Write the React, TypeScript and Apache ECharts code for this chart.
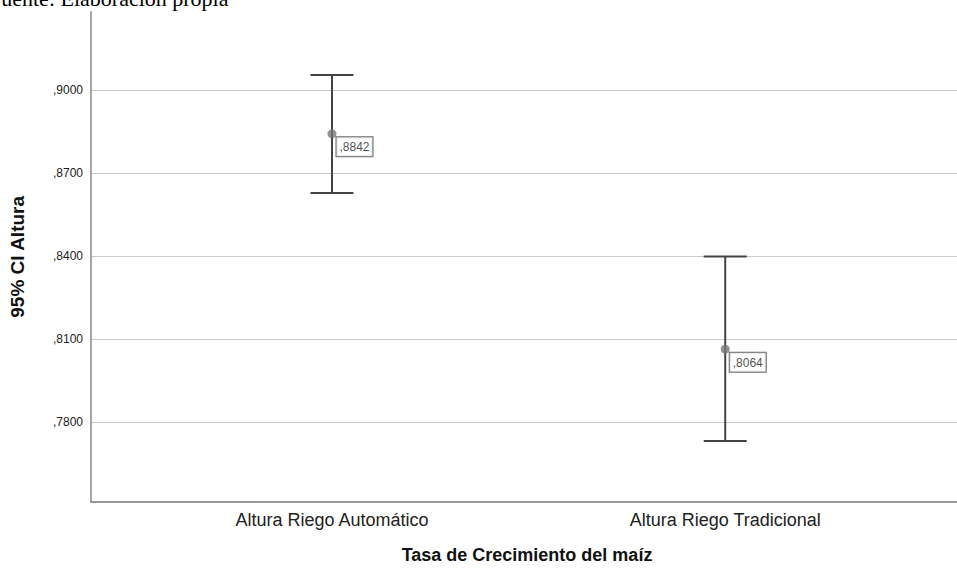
import React, { useEffect, useRef } from "react";
import * as echarts from "echarts";

const categories = ["Altura Riego Automático", "Altura Riego Tradicional"];
const means = [0.8842, 0.8064];
const lower = [0.8628, 0.7732];
const upper = [0.9055, 0.8399];
const yTicks = [0.78, 0.81, 0.84, 0.87, 0.9];

const fmt = (v: number) => v.toFixed(4).replace(/^0\./, ",");

export default function App() {
  const ref = useRef<HTMLDivElement>(null);
  useEffect(() => {
    if (!ref.current) return;
    const chart = echarts.init(ref.current, null, { renderer: "svg" });
    const font = "'Liberation Sans', Arial, sans-serif";
    chart.setOption({
      animation: false,
      backgroundColor: "#ffffff",
      grid: { left: 82.7, top: 11.7, bottom: 63.3, right: 0, containLabel: false },
      graphic: [
        {
          type: "text",
          left: -11,
          top: -13,
          style: {
            text: "Fuente: Elaboración propia",
            font: "22px 'Liberation Serif', 'Times New Roman', serif",
            fill: "#000",
          },
        },
      ],
      xAxis: {
        type: "value",
        min: -0.6128,
        max: 1.5894,
        name: "Tasa de Crecimiento del maíz",
        nameLocation: "middle",
        nameGap: 44,
        nameTextStyle: {
          fontFamily: font,
          fontSize: 18,
          fontWeight: "bold",
          color: "#111",
          verticalAlign: "top",
          padding: [0, 0, 0, 6],
        },
        axisLine: { show: true, onZero: false, lineStyle: { color: "#777", width: 1.5 } },
        axisTick: { show: false, customValues: [0, 1] },
        splitLine: { show: false },
        axisLabel: {
          customValues: [0, 1],
          margin: 9,
          fontFamily: font,
          fontSize: 18,
          color: "#222",
          formatter: (v: number) => categories[Math.round(v)] ?? "",
        },
      },
      yAxis: {
        type: "value",
        min: 0.75117,
        max: 0.92833,
        name: "95% CI Altura",
        nameLocation: "middle",
        nameGap: 64,
        nameTextStyle: {
          fontFamily: font,
          fontSize: 19,
          fontWeight: "bold",
          color: "#111",
        },
        axisLine: { show: true, onZero: false, lineStyle: { color: "#888", width: 1.5 } },
        axisTick: { show: false, customValues: yTicks },
        splitLine: { show: true, lineStyle: { color: "#c8c8c8", width: 1.2 } },
        axisLabel: {
          customValues: yTicks,
          margin: 8,
          fontFamily: font,
          fontSize: 12,
          color: "#222",
          formatter: (v: number) => fmt(v),
        },
      },
      series: [
        {
          type: "custom",
          data: categories.map((_, i) => [i, lower[i], upper[i]]),
          renderItem: (params: any, api: any) => {
            const x = api.value(0);
            const lo = api.coord([x, api.value(1)]);
            const hi = api.coord([x, api.value(2)]);
            const hw = 21.5;
            const style = { stroke: "#444", lineWidth: 2 };
            return {
              type: "group",
              children: [
                { type: "line", shape: { x1: hi[0], y1: hi[1], x2: lo[0], y2: lo[1] }, style },
                { type: "line", shape: { x1: hi[0] - hw, y1: hi[1], x2: hi[0] + hw, y2: hi[1] }, style },
                { type: "line", shape: { x1: lo[0] - hw, y1: lo[1], x2: lo[0] + hw, y2: lo[1] }, style },
              ],
            };
          },
          z: 3,
        },
        {
          type: "scatter",
          data: means.map((m, i) => [i, m]),
          symbol: "circle",
          symbolSize: 9,
          itemStyle: { color: "#767676" },
          z: 5,
          label: {
            show: true,
            position: [9, 8],
            formatter: (p: any) => fmt(p.value[1]),
            fontFamily: font,
            fontSize: 12,
            color: "#222",
            backgroundColor: "#fff",
            borderColor: "#444",
            borderWidth: 1,
            padding: [3, 3, 2, 3],
            lineHeight: 14,
          },
        },
      ],
    });
    return () => chart.dispose();
  }, []);
  return <div ref={ref} style={{ width: 957, height: 569, position: "fixed", left: 0, top: 0 }} />;
}
